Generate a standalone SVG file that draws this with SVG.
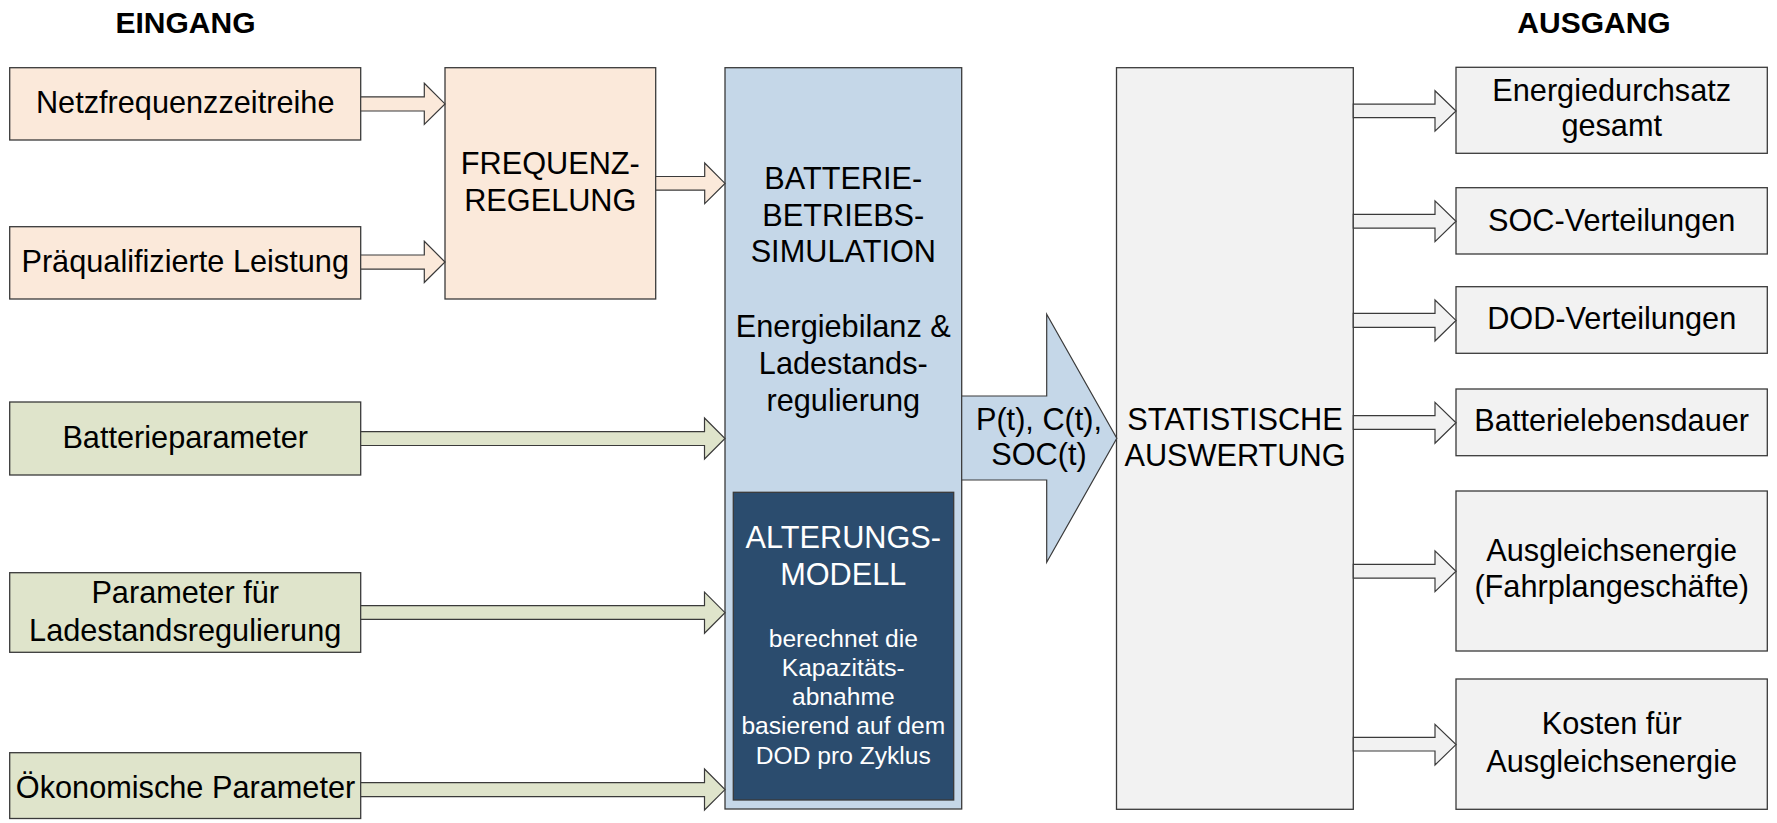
<svg xmlns="http://www.w3.org/2000/svg" width="1777" height="823" viewBox="0 0 1777 823">
<style>
  text { font-family: "Liberation Sans", Arial, sans-serif; font-size: 30.7px; fill: #000; text-anchor: middle; }
  .title { font-weight: bold; font-size: 30px; }
  .small { font-size: 24.6px; fill: #fff; }
  .white { fill: #fff; }
  .box { stroke: #3a3a3a; stroke-width: 1.3; }
  .peach { fill: #FBE9DA; }
  .green { fill: #DFE4CB; }
  .gray { fill: #F2F2F2; }
  .blue { fill: #C5D7E8; }
  .navy { fill: #2B4C6E; }
  .arr { stroke: #3a3a3a; stroke-width: 1.2; stroke-linejoin: miter; }
</style>
<rect width="1777" height="823" fill="#fff"/>

<text class="title" x="185.5" y="33.3">EINGANG</text>
<text class="title" x="1594" y="33.3">AUSGANG</text>

<g id="netzfrequenz">
  <rect class="box peach" x="9.7" y="67.7" width="351" height="72.3"/>
  <text x="185.2" y="113.3">Netzfrequenzzeitreihe</text>
</g>
<g id="praequalifiziert">
  <rect class="box peach" x="9.7" y="226.7" width="351" height="72.3"/>
  <text x="185.2" y="271.7">Präqualifizierte Leistung</text>
</g>
<g id="frequenzregelung">
  <rect class="box peach" x="445" y="67.7" width="210.7" height="231.3"/>
  <text x="550.3" y="174">FREQUENZ-</text>
  <text x="550.3" y="210.5">REGELUNG</text>
</g>
<g id="batterieparameter">
  <rect class="box green" x="9.7" y="402" width="351" height="73"/>
  <text x="185.2" y="448.3">Batterieparameter</text>
</g>
<g id="ladestandsparameter">
  <rect class="box green" x="9.7" y="572.7" width="351" height="79.6"/>
  <text x="185.2" y="603.3">Parameter für</text>
  <text x="185.2" y="640.7">Ladestandsregulierung</text>
</g>
<g id="oekonomisch">
  <rect class="box green" x="9.7" y="752.7" width="351" height="65.8"/>
  <text x="185.5" y="798.3">Ökonomische Parameter</text>
</g>

<g id="batteriesimulation">
  <rect class="box blue" x="725" y="67.7" width="236.7" height="741.3"/>
  <text x="843.3" y="189">BATTERIE-</text>
  <text x="843.3" y="225.7">BETRIEBS-</text>
  <text x="843.3" y="262.3">SIMULATION</text>
  <text x="843.3" y="337">Energiebilanz &amp;</text>
  <text x="843.3" y="374">Ladestands-</text>
  <text x="843.3" y="410.7">regulierung</text>
</g>
<g id="alterungsmodell">
  <rect class="box navy" x="733.3" y="492.3" width="220.4" height="307.7"/>
  <text class="white" x="843.3" y="548.3">ALTERUNGS-</text>
  <text class="white" x="843.3" y="585">MODELL</text>
  <text class="small" x="843.3" y="646.7">berechnet die</text>
  <text class="small" x="843.3" y="675.5">Kapazitäts-</text>
  <text class="small" x="843.3" y="704.5">abnahme</text>
  <text class="small" x="843.3" y="733.5">basierend auf dem</text>
  <text class="small" x="843.3" y="763.5">DOD pro Zyklus</text>
</g>

<g id="statistik">
  <rect class="box gray" x="1116.5" y="67.7" width="236.8" height="741.6"/>
  <text x="1235" y="429.5">STATISTISCHE</text>
  <text x="1235" y="465.5">AUSWERTUNG</text>
</g>

<g id="out-energie">
  <rect class="box gray" x="1456" y="67.3" width="311.3" height="86"/>
  <text x="1611.7" y="100.7">Energiedurchsatz</text>
  <text x="1611.7" y="136">gesamt</text>
</g>
<g id="out-soc">
  <rect class="box gray" x="1456" y="187.7" width="311.3" height="66.3"/>
  <text x="1611.7" y="230.7">SOC-Verteilungen</text>
</g>
<g id="out-dod">
  <rect class="box gray" x="1456" y="286.7" width="311.3" height="66.6"/>
  <text x="1611.7" y="329.3">DOD-Verteilungen</text>
</g>
<g id="out-lebensdauer">
  <rect class="box gray" x="1456" y="389" width="311.3" height="66.7"/>
  <text x="1611.7" y="431">Batterielebensdauer</text>
</g>
<g id="out-ausgleich">
  <rect class="box gray" x="1456" y="491" width="311.3" height="160"/>
  <text x="1611.7" y="560.7">Ausgleichsenergie</text>
  <text x="1611.7" y="597.3">(Fahrplangeschäfte)</text>
</g>
<g id="out-kosten">
  <rect class="box gray" x="1456" y="679" width="311.3" height="130.3"/>
  <text x="1611.7" y="734.3">Kosten für</text>
  <text x="1611.7" y="771.7">Ausgleichsenergie</text>
</g>

<g id="connectors">
  <polygon class="arr peach" points="360.7,96.8 424.3,96.8 424.3,83.3 445,103.9 424.3,124.4 424.3,111 360.7,111"/>
  <polygon class="arr peach" points="360.7,255 424.3,255 424.3,241.3 445,262 424.3,282.5 424.3,269.2 360.7,269.2"/>
  <polygon class="arr peach" points="655.7,176.5 704.7,176.5 704.7,163 725,183.4 704.7,203.6 704.7,190.2 655.7,190.2"/>
  <polygon class="arr green" points="360.7,431.7 704.5,431.7 704.5,418 725,438.5 704.5,459 704.5,445.5 360.7,445.5"/>
  <polygon class="arr green" points="360.7,605.7 704.5,605.7 704.5,592.2 725,612.7 704.5,633.2 704.5,619.4 360.7,619.4"/>
  <polygon class="arr green" points="360.7,782.7 704.5,782.7 704.5,769 725,789.6 704.5,810 704.5,796.6 360.7,796.6"/>
  <polygon class="arr blue" points="961.7,396 1046.7,396 1046.7,314.3 1116.8,438.3 1046.7,562.3 1046.7,480 961.7,480"/>
  <text x="1039" y="430">P(t), C(t),</text>
  <text x="1039" y="465">SOC(t)</text>
  <polygon class="arr gray" points="1353.3,104.2 1435,104.2 1435,90.7 1456,111 1435,131.2 1435,117.7 1353.3,117.7"/>
  <polygon class="arr gray" points="1353.3,214.4 1435,214.4 1435,200.8 1456,221.3 1435,241.7 1435,228.2 1353.3,228.2"/>
  <polygon class="arr gray" points="1353.3,313.4 1435,313.4 1435,300 1456,320.4 1435,341 1435,327.3 1353.3,327.3"/>
  <polygon class="arr gray" points="1353.3,415.7 1435,415.7 1435,402.3 1456,422.8 1435,443.3 1435,429.4 1353.3,429.4"/>
  <polygon class="arr gray" points="1353.3,564.4 1435,564.4 1435,550.8 1456,571.2 1435,591.7 1435,578.2 1353.3,578.2"/>
  <polygon class="arr gray" points="1353.3,737.4 1435,737.4 1435,724.3 1456,744.6 1435,765 1435,751 1353.3,751"/>
</g>
</svg>
